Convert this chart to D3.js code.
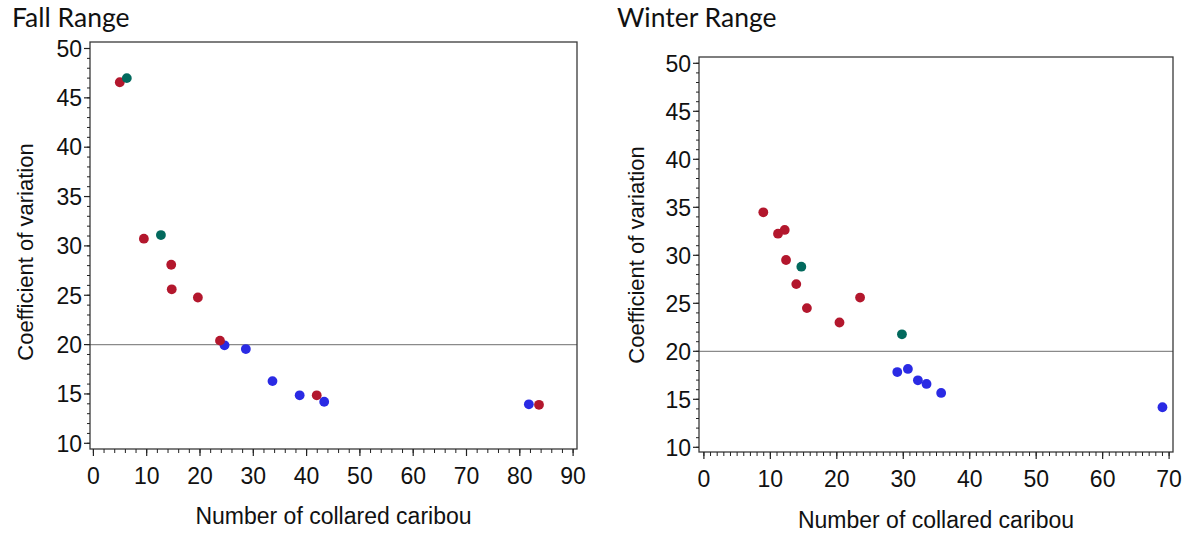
<!DOCTYPE html>
<html><head><meta charset="utf-8">
<script src="https://cdn.jsdelivr.net/npm/d3@7"></script>
<style>
html,body{margin:0;padding:0;background:#fff;}
svg{display:block;}
.ax{font-family: "Liberation Sans", Arial, Helvetica, sans-serif;}
.ttl{font-family: Lato, "Open Sans", sans-serif;}
</style></head>
<body>
<svg id="chart" width="1188" height="533"></svg>
<script>
// ---- Data ----
const fallRedX  = [4.95, 9.47, 14.6, 14.7, 19.6, 23.75, 41.9, 83.6];
const fallRedY  = [46.58, 30.73, 28.09, 25.6, 24.77, 20.4, 14.86, 13.9];
const fallTealX = [6.27, 12.67];
const fallTealY = [47.0, 31.1];
const fallBlueX = [24.6, 28.6, 33.6, 38.7, 43.3, 81.7];
const fallBlueY = [19.93, 19.55, 16.3, 14.86, 14.21, 13.95];

const winterRedX  = [8.94, 11.15, 12.16, 12.36, 13.9, 15.5, 20.4, 23.5];
const winterRedY  = [34.48, 32.25, 32.64, 29.51, 27.0, 24.5, 23.0, 25.6];
const winterTealX = [14.66, 29.8];
const winterTealY = [28.81, 21.77];
const winterBlueX = [29.1, 30.7, 32.2, 33.5, 35.7, 69.0];
const winterBlueY = [17.84, 18.16, 16.98, 16.6, 15.66, 14.17];

const yTicks = [10, 15, 20, 25, 30, 35, 40, 45, 50];
const fallXTicks = [0, 10, 20, 30, 40, 50, 60, 70, 80, 90];
const winterXTicks = [0, 10, 20, 30, 40, 50, 60, 70];
const refLineY = 20;
const titles = ["Fall Range", "Winter Range"];
const xLabel = "Number of collared caribou";
const yLabel = "Coefficient of variation";

const colors = {red: "#B3172D", teal: "#02695D", blue: "#2A2AE4"};

const svg = d3.select("#chart");

function zip(xs, ys){ return xs.map((x,i)=>({x, y: ys[i]})); }

function panel(cfg){
  const g = svg.append("g");
  const x = d3.scaleLinear().domain([0, cfg.xMax]).range(cfg.xRange);
  const y = d3.scaleLinear().domain([10, 50]).range(cfg.yRange);
  const f = cfg.frame; // [left, top, right, bottom]

  // title
  svg.append("text").attr("class", "ttl").attr("x", cfg.titleX).attr("y", 27)
    .attr("font-size", 26.5).attr("fill", "#111").text(cfg.title);

  // reference line
  g.append("line").attr("x1", f[0]).attr("x2", f[2])
    .attr("y1", y(refLineY)).attr("y2", y(refLineY))
    .attr("stroke", "#8a8a8a").attr("stroke-width", 1.2);

  // frame
  g.append("rect").attr("x", f[0]).attr("y", f[1])
    .attr("width", f[2]-f[0]).attr("height", f[3]-f[1])
    .attr("fill", "none").attr("stroke", "#3a3a3a").attr("stroke-width", 1.3);

  // y axis ticks
  const yMinor = d3.range(10, 50.001, 1);
  g.selectAll(".ymin").data(yMinor).join("line")
    .attr("x1", f[0]-3).attr("x2", f[0]).attr("y1", d=>y(d)).attr("y2", d=>y(d))
    .attr("stroke", "#222").attr("stroke-width", 1);
  g.selectAll(".ymaj").data(yTicks).join("line")
    .attr("x1", f[0]-6).attr("x2", f[0]).attr("y1", d=>y(d)).attr("y2", d=>y(d))
    .attr("stroke", "#222").attr("stroke-width", 1.2);
  g.selectAll(".ylab").data(yTicks).join("text").attr("class", "ax")
    .attr("x", f[0]-8).attr("y", d=>y(d)).attr("dy", "0.36em")
    .attr("text-anchor", "end").attr("font-size", 23)
    .attr("fill", "#111").text(d=>d);

  // x axis ticks
  const xMinor = d3.range(0, cfg.xMax+0.001, cfg.xMinorStep);
  g.selectAll(".xmin").data(xMinor).join("line")
    .attr("x1", d=>x(d)).attr("x2", d=>x(d)).attr("y1", f[3]).attr("y2", f[3]+4)
    .attr("stroke", "#222").attr("stroke-width", 1);
  g.selectAll(".xmaj").data(cfg.xTicks).join("line")
    .attr("x1", d=>x(d)).attr("x2", d=>x(d)).attr("y1", f[3]).attr("y2", f[3]+7)
    .attr("stroke", "#222").attr("stroke-width", 1.2);
  g.selectAll(".xlab").data(cfg.xTicks).join("text").attr("class", "ax")
    .attr("x", d=>x(d)).attr("y", f[3]+35)
    .attr("text-anchor", "middle").attr("font-size", 23)
    .attr("fill", "#111").text(d=>d);

  // axis titles
  g.append("text").attr("class", "ax").attr("x", (f[0]+f[2])/2).attr("y", cfg.xLabelY)
    .attr("text-anchor", "middle").attr("font-size", 23)
    .attr("fill", "#111").text(xLabel);
  g.append("text").attr("class", "ax")
    .attr("transform", `translate(${cfg.yLabelX},${cfg.yLabelCY}) rotate(-90)`)
    .attr("text-anchor", "middle").attr("font-size", 22)
    .attr("fill", "#111").text(yLabel);

  // points
  const series = [
    {pts: zip(cfg.blueX, cfg.blueY), c: colors.blue},
    {pts: zip(cfg.redX, cfg.redY), c: colors.red},
    {pts: zip(cfg.tealX, cfg.tealY), c: colors.teal}
  ];
  series.forEach(s=>{
    g.selectAll(null).data(s.pts).join("circle")
      .attr("cx", d=>x(d.x)).attr("cy", d=>y(d.y)).attr("r", 4.9)
      .attr("fill", s.c);
  });
}

panel({
  title: titles[0], titleX: 12,
  xMax: 90, xRange: [93.4, 573.1], yRange: [443.3, 48.5],
  frame: [90, 42, 577, 449], xTicks: fallXTicks, xMinorStep: 2,
  xLabelY: 524, yLabelX: 33, yLabelCY: 252,
  redX: fallRedX, redY: fallRedY, tealX: fallTealX, tealY: fallTealY,
  blueX: fallBlueX, blueY: fallBlueY
});
panel({
  title: titles[1], titleX: 617,
  xMax: 70, xRange: [703.9, 1169.1], yRange: [447.3, 63.3],
  frame: [699, 57, 1173, 452], xTicks: winterXTicks, xMinorStep: 1,
  xLabelY: 528, yLabelX: 644, yLabelCY: 255,
  redX: winterRedX, redY: winterRedY, tealX: winterTealX, tealY: winterTealY,
  blueX: winterBlueX, blueY: winterBlueY
});
</script>
</body></html>
